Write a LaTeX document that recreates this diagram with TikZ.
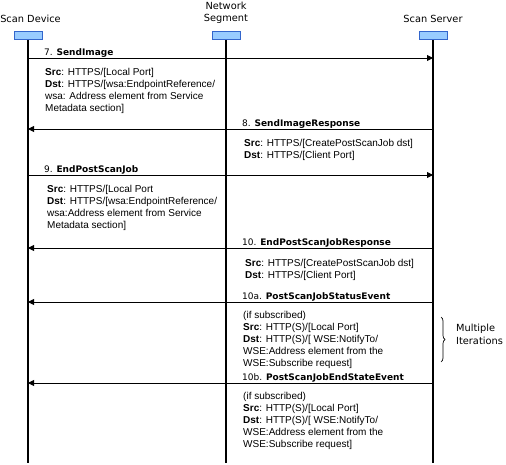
\documentclass[tikz,border=0pt]{standalone}
\usepackage{fontspec}
\usetikzlibrary{arrows.meta,decorations.pathreplacing}
\newfontfamily\verd{DejaVu Sans}
\newfontfamily\arialf{Liberation Sans}
\definecolor{boxfill}{HTML}{99CCFF}
\definecolor{boxline}{HTML}{3366CC}
\tikzset{
  lifebox/.style={draw=boxline, fill=boxfill, line width=1pt, minimum width=28pt, minimum height=8pt, inner sep=0pt},
  head/.style={font=\verd\fontsize{9.8}{12}\selectfont, align=center, inner sep=0pt},
  lifeline/.style={line width=2pt, black},
  msg/.style={line width=0.9pt, -{Triangle[length=6pt,width=6pt]}},
  lbl/.style={font=\verd\fontsize{9}{12}\selectfont, anchor=base west, inner sep=0pt},
  body/.style={font=\arialf\fontsize{10}{12}\selectfont, align=left, anchor=north west, inner sep=0pt},
  iter/.style={font=\verd\fontsize{9.8}{13}\selectfont, align=left, anchor=west, inner sep=0pt},
}
\begin{document}
\begin{tikzpicture}[x=1pt,y=-1pt]
\useasboundingbox (0,0) rectangle (506,465);
% lifeline heads
\node[lifebox] (dev) at (28,36) {};
\node[lifebox] (net) at (226,36) {};
\node[lifebox] (srv) at (433,36) {};
\node[head] (devt) at (30.5,19) {Scan Device};
\node[head] (nett) at (226,13) {Network\\Segment};
\node[head] (srvt) at (433,19) {Scan Server};
% lifelines
\draw[lifeline] (dev.south) -- (dev.south |- 0,463) coordinate (devend);
\draw[lifeline] (net.south) -- (net.south |- 0,463) coordinate (netend);
\draw[lifeline] (srv.south) -- (srv.south |- 0,463) coordinate (srvend);
% 7
\draw[msg] (dev |- 0,58) -- (srv |- 0,58);
\node[lbl] (l7) at (44,55.5) {7. \textbf{SendImage}};
\node[body] (b7) at (45,68) {\textbf{Src}: HTTPS/[Local Port]\\\textbf{Dst}: HTTPS/[wsa:EndpointReference/\\wsa: Address element from Service\\Metadata section]};
% 8
\draw[msg] (srv |- 0,129) -- (dev |- 0,129);
\node[lbl] (l8) at (242,126.5) {8. \textbf{SendImageResponse}};
\node[body] (b8) at (244,139) {\textbf{Src}: HTTPS/[CreatePostScanJob dst]\\\textbf{Dst}: HTTPS/[Client Port]};
% 9
\draw[msg] (dev |- 0,175) -- (srv |- 0,175);
\node[lbl] (l9) at (44,172.5) {9. \textbf{EndPostScanJob}};
\node[body] (b9) at (47,185) {\textbf{Src}: HTTPS/[Local Port\\\textbf{Dst}: HTTPS/[wsa:EndpointReference/\\wsa:Address element from Service\\Metadata section]};
% 10
\draw[msg] (srv |- 0,248) -- (dev |- 0,248);
\node[lbl] (l10) at (242,245.5) {10. \textbf{EndPostScanJobResponse}};
\node[body] (b10) at (245,259) {\textbf{Src}: HTTPS/[CreatePostScanJob dst]\\\textbf{Dst}: HTTPS/[Client Port]};
% 10a
\draw[msg] (srv |- 0,302) -- (dev |- 0,302);
\node[lbl] (l10a) at (242,299.5) {10a. \textbf{PostScanJobStatusEvent}};
\node[body] (b10a) at (243,311) {(if subscribed)\\\textbf{Src}: HTTP(S)/[Local Port]\\\textbf{Dst}: HTTP(S)/[ WSE:NotifyTo/\\WSE:Address element from the\\WSE:Subscribe request]};
% brace
\draw[decorate, decoration={brace, amplitude=4pt}, line width=0.7pt] (441,317) -- (441,362);
\node[iter] (it) at (456,334) {Multiple\\Iterations};
% 10b
\draw[msg] (srv |- 0,383) -- (dev |- 0,383);
\node[lbl] (l10b) at (242,380.5) {10b. \textbf{PostScanJobEndStateEvent}};
\node[body] (b10b) at (243,392) {(if subscribed)\\\textbf{Src}: HTTP(S)/[Local Port]\\\textbf{Dst}: HTTP(S)/[ WSE:NotifyTo/\\WSE:Address element from the\\WSE:Subscribe request]};
\end{tikzpicture}
\end{document}
